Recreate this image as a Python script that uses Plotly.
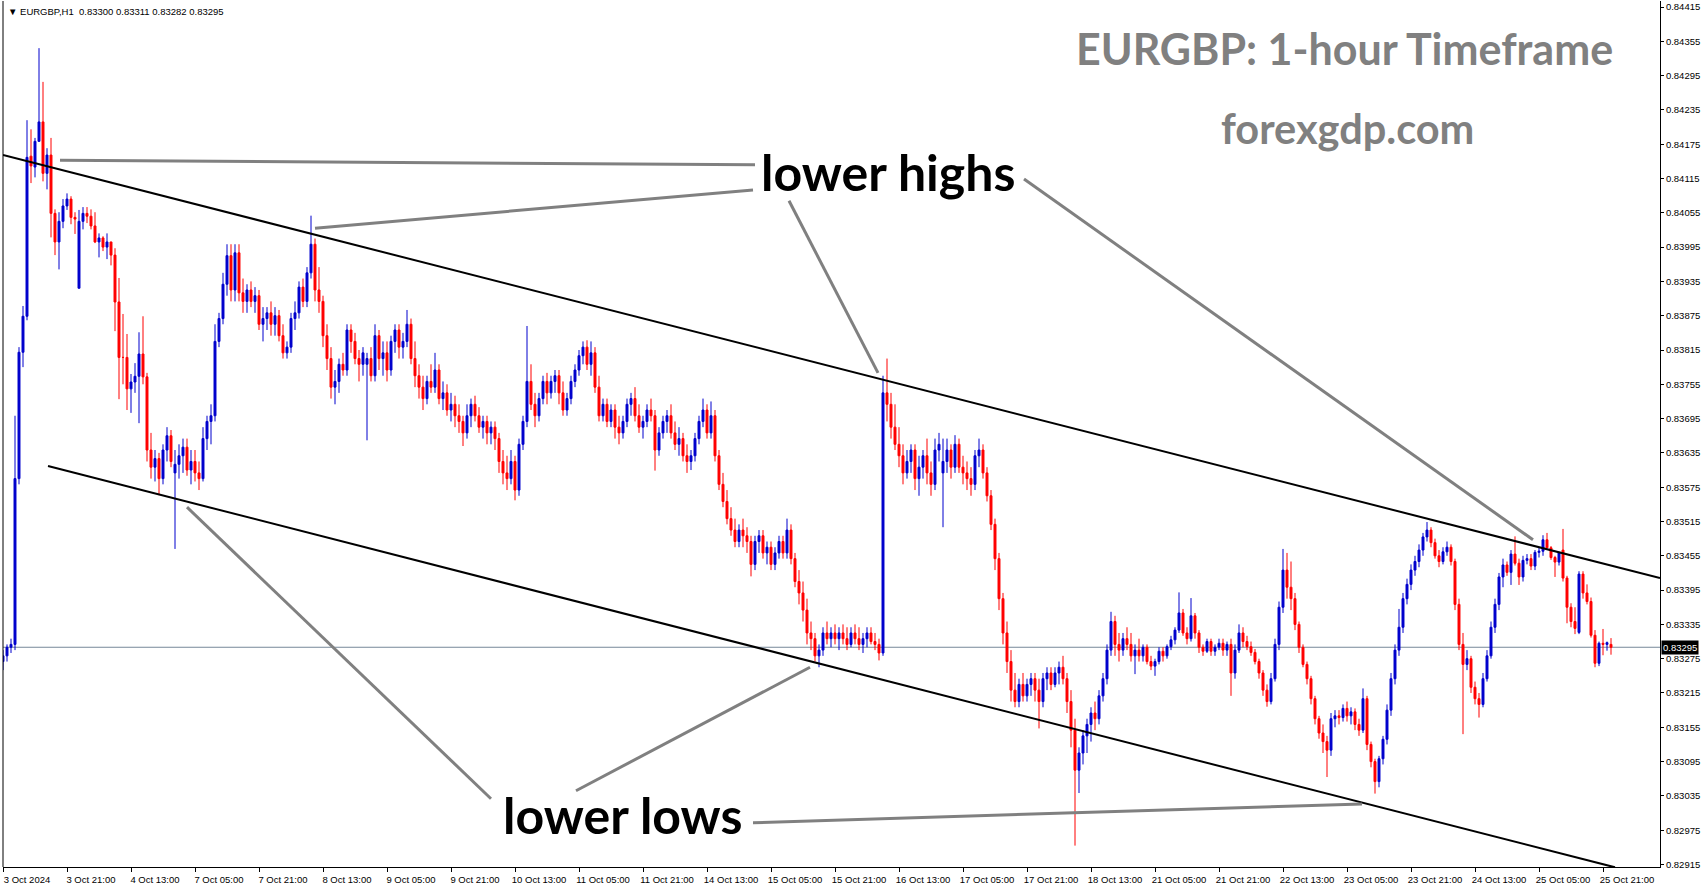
import plotly.graph_objects as go

# ---------------- data (price points, 1 point = 0.00001) ----------------
# hourly bars 3 Oct 2024 05:00 .. 25 Oct 2024 23:00 (broker time), one row per day
opens_pts = [
    83270,83280,83295,83300,83590,83811,83874,84154,84135,84180,84214,84124,84156,84054,84004,84040,84067,84079,84047,
    83923,84040,84054,84049,84032,84004,84011,83995,84004,83981,83899,83802,83802,83747,83759,83769,83808,83768,83640,83610,83625,83590,83640,83665,
    83600,83615,83630,83645,83605,83620,83600,83590,83660,83690,83700,83830,83870,83930,83980,83920,83985,83915,83900,83920,83900,83910,83860,83870,
    83880,83860,83875,83840,83810,83820,83870,83880,83925,83900,83950,84000,83920,83900,83840,83800,83750,83760,83790,83780,83850,83830,83800,83790,
    83790,83800,83770,83840,83800,83810,83780,83830,83850,83820,83830,83860,83800,83770,83750,83730,83760,83750,83780,83730,83740,83710,83720,83700,
    83690,83670,83700,83720,83700,83680,83690,83670,83680,83660,83620,83600,83590,83620,83570,83650,83690,83760,83720,83700,83730,83760,83740,83760,
    83770,83740,83710,83730,83760,83780,83805,83820,83790,83810,83750,83700,83720,83690,83710,83680,83670,83690,83720,83730,83700,83680,83690,83710,
    83700,83640,83670,83690,83700,83670,83650,83660,83630,83620,83630,83660,83690,83710,83670,83700,83630,83580,83550,83520,83500,83480,83500,83490,
    83480,83440,83480,83490,83460,83470,83440,83460,83480,83460,83500,83450,83410,83390,83360,83320,83310,83280,83290,83320,83310,83320,83310,83320,
    83310,83300,83320,83310,83300,83310,83320,83305,83300,83285,83740,83720,83680,83650,83630,83600,83620,83640,83590,83610,83630,83600,83580,83640,
    83600,83620,83640,83610,83650,83610,83600,83590,83580,83630,83640,83600,83560,83510,83450,83380,83320,83270,83220,83200,83230,83210,83230,83240,
    83220,83200,83240,83250,83230,83250,83260,83240,83200,83150,83080,83110,83140,83160,83180,83170,83210,83240,83290,83340,83300,83290,83310,83300,
    83280,83290,83280,83295,83270,83262,83270,83288,83280,83296,83308,83325,83355,83320,83310,83350,83320,83295,83288,83305,83288,83295,83302,83290,
    83300,83250,83290,83320,83305,83296,83286,83270,83250,83220,83200,83240,83300,83365,83430,83400,83380,83335,83295,83265,83240,83205,83170,83145,
    83130,83115,83170,83175,83172,83188,83175,83182,83160,83150,83205,83125,83095,83060,83100,83134,83185,83240,83290,83330,83380,83405,83430,83445,
    83465,83488,83500,83478,83455,83445,83462,83470,83445,83370,83300,83265,83275,83225,83205,83195,83240,83280,83330,83370,83418,83439,83426,83458,
    83442,83418,83447,83450,83437,83461,83463,83483,83469,83452,83444,83465,83416,83365,83340,83321,83423,83390,83375,83316,83267,83302,83300,83300,
]
highs_pts = [
    83290,83300,83310,83700,83820,83892,84217,84201,84186,84343,84284,84168,84186,84061,84056,84079,84089,84084,84056,
    84060,84065,84065,84061,84056,84019,84014,84019,84004,83993,83941,83878,83843,83773,83792,83846,83874,83775,83670,83640,83635,83650,83680,83675,
    83640,83650,83660,83660,83640,83640,83620,83680,83700,83720,83860,83880,83950,84000,84000,84000,84000,83940,83930,83935,83925,83920,83890,83890,
    83900,83890,83885,83860,83830,83880,83900,83935,83940,83960,84050,84010,83960,83910,83860,83820,83780,83800,83810,83860,83860,83845,83815,83820,
    83810,83820,83860,83850,83830,83830,83840,83860,83860,83845,83885,83870,83830,83790,83770,83770,83790,83810,83790,83760,83755,83740,83735,83720,
    83700,83720,83730,83735,83715,83700,83700,83690,83690,83670,83640,83630,83640,83630,83660,83700,83857,83790,83740,83740,83770,83775,83770,83780,
    83780,83760,83740,83770,83790,83815,83830,83832,83830,83820,83770,83730,83730,83720,83720,83700,83700,83730,83740,83750,83720,83700,83720,83730,
    83710,83680,83700,83710,83720,83690,83680,83670,83650,83640,83670,83700,83730,83720,83725,83710,83640,83600,83570,83540,83520,83510,83520,83505,
    83490,83490,83500,83500,83480,83480,83470,83490,83490,83520,83510,83460,83430,83410,83380,83340,83320,83300,83330,83340,83330,83335,83330,83335,
    83330,83330,83335,83330,83320,83330,83330,83320,83310,83770,83800,83740,83720,83680,83650,83640,83650,83650,83630,83640,83660,83620,83660,83670,
    83660,83660,83650,83666,83660,83630,83620,83610,83640,83660,83650,83610,83570,83520,83460,83390,83340,83290,83250,83240,83250,83240,83250,83250,
    83240,83250,83260,83260,83260,83270,83280,83250,83220,83170,83120,83150,83170,83190,83200,83220,83250,83300,83357,83350,83320,83320,83330,83320,
    83300,83310,83300,83300,83280,83275,83295,83295,83300,83315,83330,83391,83362,83330,83381,83355,83325,83300,83310,83310,83300,83310,83310,83305,
    83310,83300,83335,83330,83315,83305,83292,83275,83255,83230,83250,83310,83375,83467,83460,83445,83390,83340,83300,83270,83245,83210,83175,83160,
    83140,83180,83185,83185,83195,83200,83190,83188,83170,83223,83210,83130,83100,83105,83140,83195,83250,83300,83362,83390,83415,83440,83455,83475,
    83495,83514,83505,83485,83465,83470,83480,83475,83450,83380,83320,83290,83280,83235,83215,83250,83290,83340,83380,83425,83450,83445,83465,83489,
    83450,83455,83458,83458,83465,83470,83491,83495,83472,83455,83462,83502,83420,83372,83365,83428,83428,83405,83382,83325,83305,83327,83305,83311,
]
lows_pts = [
    83255,83270,83285,83290,83580,83785,83867,84107,84117,84179,84110,84096,84012,83981,83956,84028,84060,84035,84018,
    83923,84026,84037,84026,84002,83977,83988,83974,83963,83848,83729,83755,83710,83705,83740,83687,83755,83620,83590,83585,83561,83580,83620,83610,
    83467,83590,83600,83595,83580,83585,83570,83585,83640,83650,83690,83820,83860,83910,83900,83900,83900,83880,83880,83890,83880,83850,83830,83850,
    83840,83840,83830,83800,83800,83810,83850,83870,83890,83890,83940,83900,83880,83820,83780,83730,83720,83740,83770,83770,83810,83790,83760,83770,
    83657,83760,83760,83780,83770,83760,83770,83810,83800,83800,83820,83790,83750,83730,83710,83720,83740,83740,83720,83710,83700,83690,83680,83670,
    83647,83660,83680,83690,83670,83660,83650,83650,83640,83600,83580,83570,83580,83552,83560,83640,83680,83710,83680,83690,83720,83720,83730,83740,
    83720,83700,83700,83720,83750,83770,83790,83780,83770,83740,83690,83690,83680,83680,83660,83650,83660,83680,83700,83690,83670,83660,83680,83690,
    83604,83630,83660,83670,83660,83640,83630,83620,83600,83605,83620,83650,83680,83660,83660,83620,83570,83540,83510,83490,83470,83470,83470,83460,
    83419,83430,83460,83450,83440,83430,83430,83450,83450,83450,83440,83400,83370,83340,83300,83290,83270,83260,83280,83300,83295,83300,83290,83300,
    83290,83295,83300,83290,83285,83295,83300,83290,83272,83280,83690,83660,83640,83610,83580,83590,83600,83570,83560,83590,83580,83560,83570,83620,
    83505,83600,83590,83600,83600,83580,83570,83560,83570,83610,83590,83550,83500,83430,83360,83300,83250,83200,83190,83190,83200,83200,83210,83200,
    83153,83190,83220,83220,83225,83230,83230,83180,83120,82948,83040,83090,83110,83130,83150,83160,83200,83230,83280,83280,83270,83280,83290,83270,
    83248,83270,83270,83265,83255,83245,83265,83270,83275,83290,83300,83320,83315,83300,83305,83310,83285,83280,83285,83280,83280,83290,83280,83280,
    83210,83240,83285,83295,83290,83280,83265,83240,83210,83191,83195,83235,83290,83355,83380,83360,83325,83285,83260,83230,83195,83160,83135,83110,
    83068,83105,83155,83160,83165,83165,83160,83150,83140,83145,83115,83085,83039,83050,83090,83125,83175,83230,83280,83320,83370,83395,83420,83435,
    83455,83480,83470,83450,83435,83440,83455,83438,83360,83290,83143,83255,83215,83195,83172,83190,83235,83275,83320,83360,83400,83420,83404,83438,
    83404,83410,83440,83430,83430,83452,83455,83468,83448,83418,83438,83410,83337,83330,83318,83318,83380,83370,83312,83260,83262,83281,83289,83282,
]
closes_pts = [
    83280,83295,83300,83590,83811,83874,84152,84137,84180,84214,84124,84156,84054,84004,84040,84067,84079,84047,84044,
    84040,84054,84049,84032,84004,84011,83995,84004,83981,83899,83802,83802,83747,83759,83769,83808,83768,83640,83610,83625,83590,83640,83665,83620,
    83615,83630,83645,83605,83620,83600,83590,83660,83690,83700,83830,83870,83930,83980,83920,83985,83915,83900,83920,83900,83910,83860,83870,83880,
    83860,83875,83840,83810,83820,83870,83880,83925,83900,83950,84000,83920,83900,83840,83800,83750,83760,83790,83780,83850,83830,83800,83790,83810,
    83800,83770,83840,83800,83810,83780,83830,83850,83820,83830,83860,83800,83770,83750,83730,83760,83750,83780,83730,83740,83710,83720,83700,83690,
    83670,83700,83720,83700,83680,83690,83670,83680,83660,83620,83600,83590,83620,83570,83650,83690,83760,83720,83700,83730,83760,83740,83760,83770,
    83740,83710,83730,83760,83780,83805,83820,83790,83810,83750,83700,83720,83690,83710,83680,83670,83690,83720,83730,83700,83680,83690,83710,83700,
    83640,83670,83690,83700,83670,83650,83660,83630,83620,83630,83660,83690,83710,83670,83700,83630,83580,83550,83520,83500,83480,83500,83490,83480,
    83440,83480,83490,83460,83470,83440,83460,83480,83460,83500,83450,83410,83390,83360,83320,83310,83280,83290,83320,83310,83320,83310,83320,83310,
    83300,83320,83310,83300,83310,83320,83305,83300,83285,83740,83720,83680,83650,83630,83600,83620,83640,83590,83610,83630,83600,83580,83640,83650,
    83620,83640,83610,83650,83610,83600,83590,83580,83630,83640,83600,83560,83510,83450,83380,83320,83270,83220,83200,83230,83210,83230,83240,83220,
    83200,83240,83250,83230,83250,83260,83240,83200,83150,83080,83110,83140,83160,83180,83170,83210,83240,83290,83340,83300,83290,83310,83300,83280,
    83290,83280,83295,83270,83262,83270,83288,83280,83296,83308,83325,83355,83320,83310,83350,83320,83295,83288,83305,83288,83295,83302,83290,83300,
    83250,83290,83320,83305,83296,83286,83270,83250,83220,83200,83240,83300,83365,83430,83400,83380,83335,83295,83265,83240,83205,83170,83145,83130,
    83115,83170,83175,83172,83188,83175,83182,83160,83150,83205,83125,83095,83060,83100,83134,83185,83240,83290,83330,83380,83405,83430,83445,83465,
    83488,83500,83478,83455,83445,83462,83470,83445,83370,83300,83265,83275,83225,83205,83195,83240,83280,83330,83370,83418,83439,83426,83458,83442,
    83418,83447,83450,83437,83461,83463,83483,83469,83452,83444,83460,83416,83365,83340,83328,83423,83390,83375,83316,83267,83302,83300,83303,83295,
]

tick_bars = [0, 16, 32, 48, 64, 80, 96, 112, 128, 144, 160, 176, 192, 208, 224, 240,
             256, 272, 288, 304, 320, 336, 352, 368, 384, 400]
tick_labels = ["3 Oct 2024", "3 Oct 21:00", "4 Oct 13:00", "7 Oct 05:00", "7 Oct 21:00",
               "8 Oct 13:00", "9 Oct 05:00", "9 Oct 21:00", "10 Oct 13:00", "11 Oct 05:00",
               "11 Oct 21:00", "14 Oct 13:00", "15 Oct 05:00", "15 Oct 21:00", "16 Oct 13:00",
               "17 Oct 05:00", "17 Oct 21:00", "18 Oct 13:00", "21 Oct 05:00", "21 Oct 21:00",
               "22 Oct 13:00", "23 Oct 05:00", "23 Oct 21:00", "24 Oct 13:00", "25 Oct 05:00",
               "25 Oct 21:00"]
price_ticks = [0.84415, 0.84355, 0.84295, 0.84235, 0.84175, 0.84115, 0.84055, 0.83995,
               0.83935, 0.83875, 0.83815, 0.83755, 0.83695, 0.83635, 0.83575, 0.83515,
               0.83455, 0.83395, 0.83335, 0.83275, 0.83215, 0.83155, 0.83095, 0.83035,
               0.82975, 0.82915]
price_tick_text = ["%.5f" % v for v in price_ticks]
last_price = 0.83295

# channel trend lines (bar index, price)
upper_x = [0, 414.25]
upper_y = [0.84156, 0.83416]
lower_x = [11.25, 403]
lower_y = [0.83612, 0.82910]

n = len(closes_pts)
assert len(opens_pts) == n and len(highs_pts) == n and len(lows_pts) == n, (len(opens_pts), len(highs_pts), len(lows_pts), n)
bars = list(range(n))
opens = [v / 1e5 for v in opens_pts]
highs = [v / 1e5 for v in highs_pts]
lows = [v / 1e5 for v in lows_pts]
closes = [v / 1e5 for v in closes_pts]

BLUE = "#0000cd"
RED = "#ff0000"
GREY = "#808080"
AXFONT = dict(family="Liberation Sans, Arial, sans-serif", size=9.5, color="black")

fig = go.Figure()
fig.add_trace(go.Candlestick(
    x=bars, open=opens, high=highs, low=lows, close=closes,
    increasing=dict(line=dict(color=BLUE, width=1), fillcolor=BLUE),
    decreasing=dict(line=dict(color=RED, width=1), fillcolor=RED),
    whiskerwidth=0, showlegend=False, hoverinfo="skip"))

fig.add_trace(go.Scatter(x=upper_x, y=upper_y, mode="lines",
                         line=dict(color="black", width=2), showlegend=False, hoverinfo="skip"))
fig.add_trace(go.Scatter(x=lower_x, y=lower_y, mode="lines",
                         line=dict(color="black", width=2), showlegend=False, hoverinfo="skip"))

shapes = [
    dict(type="line", xref="paper", x0=0, x1=1, yref="y", y0=last_price, y1=last_price,
         line=dict(color="#778899", width=1), layer="below"),
    dict(type="line", xref="paper", x0=0, x1=0, yref="paper", y0=0, y1=1,
         line=dict(color="black", width=1)),
]
# pointer lines from the labels to the swing points (bar index, price)
pointers = [
    (14.25, 0.84147, 188.0, 0.84139),
    (78.0, 0.84028, 187.5, 0.84095),
    (196.5, 0.84076, 218.75, 0.83775),
    (255.25, 0.84114, 382.5, 0.83483),
    (46.0, 0.83540, 122.0, 0.83030),
    (143.25, 0.83044, 201.75, 0.83260),
    (187.5, 0.82988, 339.75, 0.83021),
]
for x0, y0, x1, y1 in pointers:
    shapes.append(dict(type="line", xref="x", yref="y", x0=x0, y0=y0, x1=x1, y1=y1,
                       line=dict(color=GREY, width=3)))

annotations = [
    dict(xref="paper", yref="paper", x=0, y=1, xanchor="left", yanchor="top",
         xshift=3, yshift=-3, showarrow=False,
         text="\u25bc EURGBP,H1\u00a0\u00a00.83300 0.83311 0.83282 0.83295",
         font=dict(family="Liberation Sans, Arial, sans-serif", size=9.5, color="black")),
    dict(xref="paper", yref="y", x=1, y=last_price, xanchor="left", yanchor="middle",
         xshift=1, showarrow=False, text="0.83295", bgcolor="black", borderpad=1,
         font=dict(family="Liberation Sans, Arial, sans-serif", size=9.5, color="white")),
    dict(xref="paper", yref="paper", x=0.9728, y=0.9446, xanchor="right", yanchor="middle",
         showarrow=False, text="EURGBP: 1-hour Timeframe",
         font=dict(family="Lato", size=43, color=GREY, weight=700)),
    dict(xref="paper", yref="paper", x=0.8117, y=0.853, xanchor="center", yanchor="middle",
         showarrow=False, text="forexgdp.com",
         font=dict(family="Lato", size=41.5, color=GREY, weight=700)),
    dict(xref="paper", yref="paper", x=0.5341, y=0.8025, xanchor="center", yanchor="middle",
         showarrow=False, text="lower highs",
         font=dict(family="Lato", size=50, color="black", weight=700)),
    dict(xref="paper", yref="paper", x=0.3736, y=0.0600, xanchor="center", yanchor="middle",
         showarrow=False, text="lower lows",
         font=dict(family="Lato", size=50, color="black", weight=700)),
]

fig.update_layout(
    width=1705, height=888,
    margin=dict(l=3, r=45, t=1, b=21),
    paper_bgcolor="white", plot_bgcolor="white",
    showlegend=False,
    shapes=shapes, annotations=annotations,
    xaxis=dict(range=[0, 414.25], tickmode="array", tickvals=tick_bars, ticktext=tick_labels,
               ticks="outside", ticklen=4, tickcolor="black", showline=True, linecolor="black",
               linewidth=1, showgrid=False, zeroline=False, rangeslider=dict(visible=False),
               tickfont=AXFONT, ticklabelshift=24, fixedrange=True),
    yaxis=dict(range=[0.829106, 0.844255], side="right", tickmode="array", tickvals=price_ticks,
               ticktext=price_tick_text, ticks="outside", ticklen=3, tickcolor="black",
               showline=True, linecolor="black", linewidth=1, showgrid=False, zeroline=False,
               tickfont=AXFONT, fixedrange=True),
)

fig.write_html("out.html", config={"displayModeBar": False},
               post_script="document.body.style.margin='0';document.body.style.padding='0';document.body.style.overflow='hidden';")
